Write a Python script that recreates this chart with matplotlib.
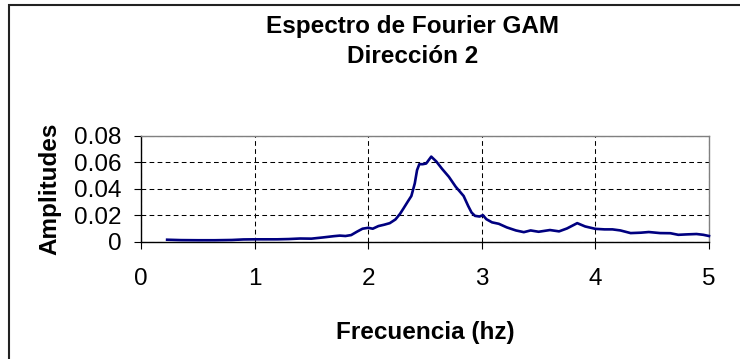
import matplotlib
matplotlib.use("Agg")
import matplotlib.pyplot as plt
from matplotlib.patches import Rectangle

plt.rcParams['font.family'] = ['Liberation Sans', 'DejaVu Sans']
plt.rcParams['lines.scale_dashes'] = False

freq = [0.23, 0.35, 0.5, 0.65, 0.8, 0.9, 1.0, 1.1, 1.2, 1.3, 1.4, 1.5, 1.6, 1.7,
        1.75, 1.8, 1.85, 1.9, 1.95, 2.0, 2.04, 2.09, 2.14, 2.19, 2.24, 2.28, 2.31,
        2.35, 2.38, 2.41, 2.43, 2.45, 2.48, 2.51, 2.555, 2.6, 2.65, 2.71, 2.77,
        2.84, 2.88, 2.91, 2.94, 2.98, 3.01, 3.04, 3.09, 3.15, 3.22, 3.3, 3.37,
        3.43, 3.5, 3.6, 3.68, 3.75, 3.84, 3.91, 4.0, 4.08, 4.15, 4.22, 4.31, 4.4,
        4.47, 4.57, 4.66, 4.73, 4.8, 4.89, 4.95, 5.0]
amp = [0.0015, 0.0012, 0.0011, 0.0011, 0.0013, 0.0017, 0.0018, 0.0018, 0.0018,
       0.0020, 0.0024, 0.0023, 0.0032, 0.0042, 0.0046, 0.0043, 0.0050, 0.0075,
       0.0098, 0.0105, 0.0098, 0.0118, 0.0128, 0.0140, 0.0168, 0.0210, 0.0250,
       0.0305, 0.0345, 0.0440, 0.0540, 0.0585, 0.0585, 0.0590, 0.0642, 0.0605,
       0.0550, 0.0490, 0.0415, 0.0345, 0.0270, 0.0220, 0.0195, 0.0190, 0.0200,
       0.0170, 0.0146, 0.0135, 0.0108, 0.0085, 0.0072, 0.0085, 0.0075, 0.0088,
       0.0078, 0.0100, 0.0140, 0.0115, 0.0097, 0.0093, 0.0093, 0.0085, 0.0065,
       0.0068, 0.0073, 0.0065, 0.0064, 0.0052, 0.0055, 0.0058, 0.0052, 0.0043]

xticks = [0, 1, 2, 3, 4, 5]
yticks = [0, 0.02, 0.04, 0.06, 0.08]
ytick_labels = ['0', '0.02', '0.04', '0.06', '0.08']

W, H = 740, 359
fig = plt.figure(figsize=(W / 100, H / 100), dpi=100)

# outer chart frame
fig.patches.append(Rectangle((9 / W, -0.1), 1.2, 1.1 - 5 / H, transform=fig.transFigure,
                             fill=False, edgecolor='#222222', linewidth=1.5))

ax = fig.add_axes([141 / W, 1 - 241.7 / H, 568 / W, 106 / H])
ax.plot(freq, amp, color='#000080', linewidth=1.9, zorder=3, clip_on=False)
ax.set_xlim(0, 5)
ax.set_ylim(0, 0.08)
ax.set_xticks(xticks)
ax.set_xticklabels([str(t) for t in xticks])
ax.set_yticks(yticks)
ax.set_yticklabels(ytick_labels)

ax.grid(True, color='black', linestyle=(0, (3.4, 2.4)), linewidth=0.75)
ax.set_axisbelow(True)
for s in ['top', 'right']:
    ax.spines[s].set_color('#808080')
    ax.spines[s].set_linewidth(1.0)
for s in ['left', 'bottom']:
    ax.spines[s].set_color('black')
    ax.spines[s].set_linewidth(1.0)

ax.tick_params(axis='both', direction='out', length=5, width=0.8, labelsize=17.5,
               colors='black')
ax.tick_params(axis='y', pad=9)
ax.tick_params(axis='x', pad=14)

fig.text(413 / W, 1 - 26.7 / H, 'Espectro de Fourier GAM', ha='center', va='center',
         fontsize=17.5, fontweight='bold')
fig.text(413 / W, 1 - 56.7 / H, 'Dirección 2', ha='center', va='center',
         fontsize=17.5, fontweight='bold')
fig.text(50 / W, 1 - 189 / H, 'Amplitudes', ha='center', va='center', rotation=90,
         fontsize=17.5, fontweight='bold')
fig.text(425 / W, 1 - 332 / H, 'Frecuencia (hz)', ha='center', va='center',
         fontsize=17.5, fontweight='bold')

fig.savefig('out.png', dpi=100, facecolor='white')
